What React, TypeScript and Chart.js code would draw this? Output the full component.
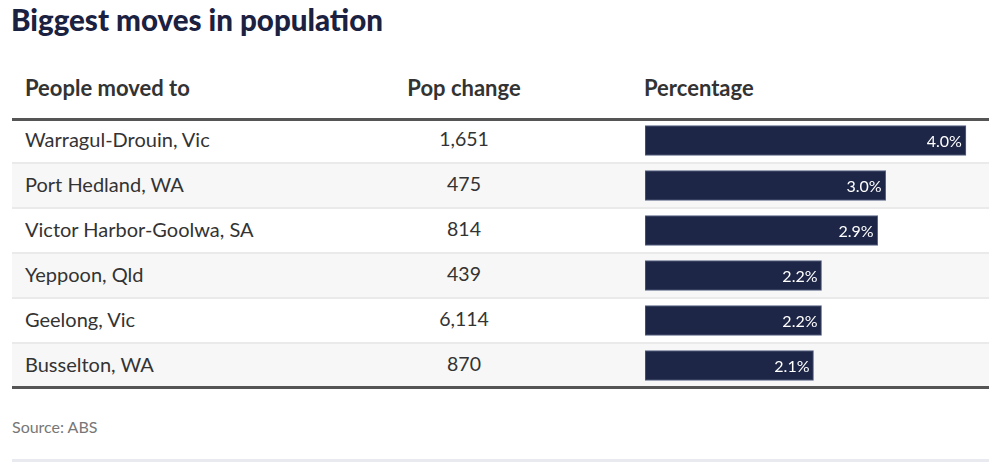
import React, { useEffect, useRef } from "react";
import { Chart, registerables } from "chart.js";

Chart.register(...registerables);

const title = "Biggest moves in population";
const headers = ["People moved to", "Pop change", "Percentage"];
const categories = [
  "Warragul-Drouin, Vic",
  "Port Hedland, WA",
  "Victor Harbor-Goolwa, SA",
  "Yeppoon, Qld",
  "Geelong, Vic",
  "Busselton, WA",
];
const popChange = [1651, 475, 814, 439, 6114, 870];
const percentages = [4.0, 3.0, 2.9, 2.2, 2.2, 2.1];
const source = "Source: ABS";

const FONT = "Lato, 'Noto Sans', sans-serif";
const TOP = 118;
const ROW_H = 45;
const BAR_LEFT = 645;
const CANVAS_W = 345;
const X_MAX = 4.3;

export default function App() {
  const ref = useRef<HTMLCanvasElement | null>(null);

  useEffect(() => {
    if (!ref.current) return;
    const labelPlugin = {
      id: "barLabels",
      afterDatasetsDraw(chart: any) {
        const ctx = chart.ctx;
        const meta = chart.getDatasetMeta(0);
        ctx.save();
        ctx.fillStyle = "#ffffff";
        ctx.font = `16px ${FONT}`;
        ctx.textAlign = "right";
        ctx.textBaseline = "middle";
        meta.data.forEach((bar: any, i: number) => {
          ctx.fillText(percentages[i].toFixed(1) + "%", bar.x - 4, bar.y + 1);
        });
        ctx.restore();
      },
    };
    const chart = new Chart(ref.current, {
      type: "bar",
      data: {
        labels: categories,
        datasets: [
          {
            data: percentages,
            backgroundColor: "#1d2646",
            borderColor: "#5a6385",
            borderWidth: 1,
            borderSkipped: false,
            barThickness: 30,
          },
        ],
      },
      options: {
        indexAxis: "y",
        animation: false,
        responsive: false,
        maintainAspectRatio: false,
        layout: { padding: 0 },
        plugins: { legend: { display: false }, tooltip: { enabled: false } },
        scales: {
          x: { display: false, min: 0, max: X_MAX },
          y: { display: false },
        },
      },
      plugins: [labelPlugin],
    });
    return () => chart.destroy();
  }, []);

  const head = { position: "absolute" as const, top: 75, fontSize: 22, lineHeight: "26px", fontWeight: 700, color: "#333", whiteSpace: "nowrap" as const };

  return (
    <div
      style={{
        position: "fixed",
        left: 0,
        top: 0,
        width: 1002,
        height: 464,
        background: "#fff",
        fontFamily: FONT,
        overflow: "hidden",
      }}
    >
      <div
        style={{
          position: "absolute",
          left: 11,
          top: 2,
          fontSize: 29.5,
          lineHeight: "35px",
          fontWeight: 900,
          color: "#1b2140",
          whiteSpace: "nowrap",
        }}
      >
        {title}
      </div>
      <div style={{ ...head, left: 25 }}>{headers[0]}</div>
      <div style={{ ...head, left: 364, width: 200, textAlign: "center" }}>{headers[1]}</div>
      <div style={{ ...head, left: 644 }}>{headers[2]}</div>

      {categories.map((c, i) => (
        <div
          key={c}
          style={{
            position: "absolute",
            left: 12,
            width: 977,
            top: TOP + i * ROW_H,
            height: ROW_H,
            background: i % 2 === 1 ? "#f7f7f7" : "#ffffff",
          }}
        >
          {i > 0 && (
            <div style={{ position: "absolute", left: 0, right: 0, top: -1, height: 2, background: "#eaeaea" }} />
          )}
          <div style={{ position: "absolute", left: 13, top: 9, fontSize: 20, lineHeight: "24px", color: "#333", whiteSpace: "nowrap" }}>
            {c}
          </div>
          <div style={{ position: "absolute", left: 352, width: 200, textAlign: "center", top: 9, fontSize: 19.5, lineHeight: "24px", color: "#333" }}>
            {popChange[i].toLocaleString("en-US")}
          </div>
        </div>
      ))}

      <div style={{ position: "absolute", left: 12, width: 977, top: TOP, height: 3, background: "#555" }} />
      <div style={{ position: "absolute", left: 12, width: 977, top: TOP + 6 * ROW_H - 2, height: 3, background: "#555" }} />

      <canvas
        ref={ref}
        width={CANVAS_W}
        height={6 * ROW_H}
        style={{ position: "absolute", left: BAR_LEFT, top: TOP, width: CANVAS_W, height: 6 * ROW_H }}
      />

      <div style={{ position: "absolute", left: 12, top: 417, fontSize: 16, lineHeight: "19px", color: "#777", whiteSpace: "nowrap" }}>
        {source}
      </div>
      <div style={{ position: "absolute", left: 12, width: 977, top: 459, height: 3, background: "#e8eaf0" }} />
    </div>
  );
}
